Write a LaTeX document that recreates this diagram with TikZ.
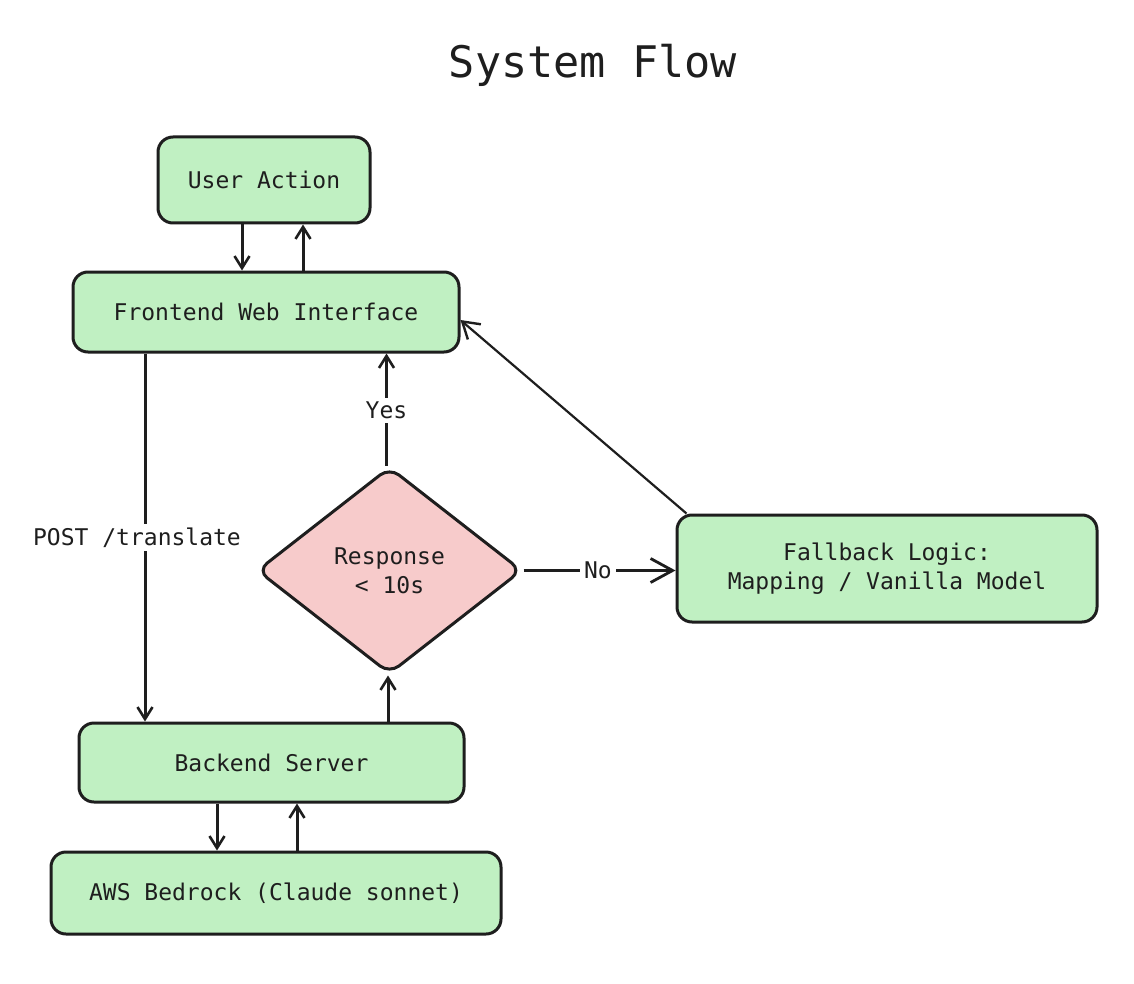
\documentclass[tikz,border=0pt]{standalone}
\usepackage{fontspec}
\setmainfont{DejaVu Sans Mono}
\usetikzlibrary{arrows.meta,shapes.geometric}
\definecolor{boxgreen}{RGB}{192,240,194}
\definecolor{boxpink}{RGB}{247,203,203}
\definecolor{ink}{RGB}{30,30,30}
\tikzset{
  box/.style={draw=ink, fill=boxgreen, line width=3pt, rounded corners=15pt,
    font=\fontsize{23}{29}\selectfont, text=ink, align=center, inner sep=0pt},
  decbox/.style={draw=ink, fill=boxpink, line width=3pt, shape=diamond, rounded corners=12pt,
    font=\fontsize{23}{29}\selectfont, text=ink, align=center, inner sep=0pt,
    minimum width=265pt, minimum height=207pt},
  arr/.style={draw=ink, line width=3pt, -{Straight Barb[length=12pt,width=15pt,line width=2.6pt]}},
  bigarr/.style={draw=ink, line width=3pt, -{Straight Barb[length=22pt,width=24pt,line width=2.8pt]}},
  thinarr/.style={draw=ink, line width=2.2pt, -{Straight Barb[length=16pt,width=20pt,line width=2.4pt]}},
  lbl/.style={fill=white, text=ink, font=\fontsize{23}{26}\selectfont, inner sep=4pt},
}
\begin{document}
\begin{tikzpicture}[x=1pt,y=-1pt]
\path[use as bounding box, fill=white] (0,0) rectangle (1134,984);
\node[text=ink, font=\fontsize{43.5}{50}\selectfont] (title) at (593,65) {System Flow};
\node[box, minimum width=212pt, minimum height=86pt] (ua) at (264,180) {User Action};
\node[box, minimum width=386pt, minimum height=80pt] (fe) at (266,312) {Frontend Web Interface};
\node[box, minimum width=385pt, minimum height=79pt] (be) at (271.5,762.5) {Backend Server};
\node[box, minimum width=450pt, minimum height=82pt] (aws) at (276,893) {AWS Bedrock (Claude sonnet)};
\node[box, minimum width=420pt, minimum height=107pt] (fb) at (887,568.5) {Fallback Logic:\\Mapping / Vanilla Model};
\node[decbox] (dec) at (389.5,570.5) {Response\\< 10s};
% connectors
\draw[arr] ([xshift=-22pt]ua.south) -- ([xshift=-22pt]ua.south |- fe.north);
\draw[arr] ([xshift=39pt]ua.south |- fe.north) -- ([xshift=39pt]ua.south);
\draw[arr] ([xshift=-121pt]fe.south) -- node[lbl, xshift=-8pt] {POST /translate} ([xshift=-121pt]fe.south |- be.north);
\draw[arr] ([xshift=-1.5pt]dec.south |- be.north) -- ([xshift=-1.5pt]dec.south);
\draw[arr] ([xshift=-3pt]dec.north) -- node[lbl, pos=0.49] {Yes} ([xshift=-3pt]dec.north |- fe.south);
\draw[bigarr] (dec.east) -- node[lbl, pos=0.49] {No} (dec.east -| fb.west);
\draw[thinarr] ([xshift=11pt]fb.north west) -- ([yshift=-8pt]fe.east);
\draw[arr] ([xshift=-54.5pt]be.south) -- ([xshift=-54.5pt]be.south |- aws.north);
\draw[arr] ([xshift=25.5pt]be.south |- aws.north) -- ([xshift=25.5pt]be.south);
\end{tikzpicture}
\end{document}
